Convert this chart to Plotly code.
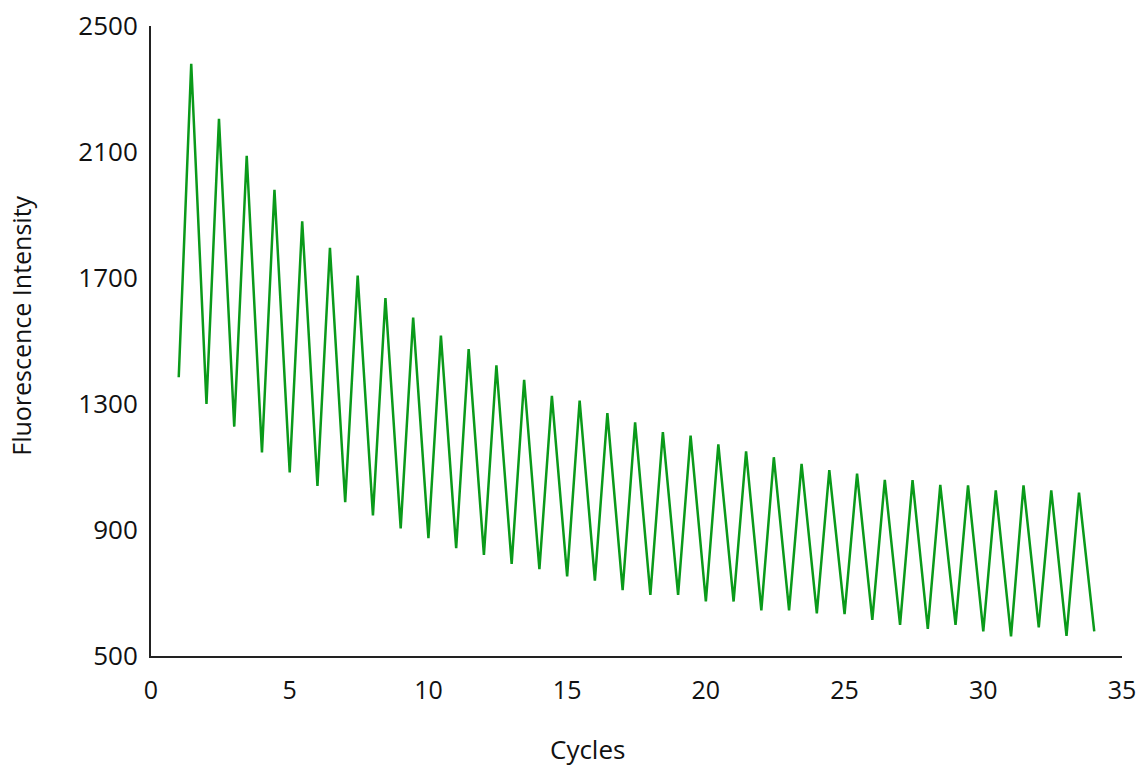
import plotly.graph_objects as go

# Cycle positions: troughs at whole cycles, peaks between them
cycles = [1, 1.45, 2, 2.45, 3, 3.45, 4, 4.45, 5, 5.45, 6, 6.45, 7, 7.45, 8, 8.45,
          9, 9.45, 10, 10.45, 11, 11.45, 12, 12.45, 13, 13.45, 14, 14.45, 15, 15.45,
          16, 16.45, 17, 17.45, 18, 18.45, 19, 19.45, 20, 20.45, 21, 21.45, 22, 22.45,
          23, 23.45, 24, 24.45, 25, 25.45, 26, 26.45, 27, 27.45, 28, 28.45, 29, 29.45,
          30, 30.45, 31, 31.45, 32, 32.45, 33, 33.45, 34]

intensity = [1385, 2380, 1300, 2205, 1228, 2088, 1146, 1980, 1083, 1880, 1040, 1796,
             988, 1708, 946, 1636, 905, 1574, 874, 1517, 842, 1474, 821, 1423, 792,
             1377, 776, 1326, 753, 1311, 739, 1271, 709, 1242, 694, 1211, 694, 1200,
             673, 1172, 673, 1150, 645, 1131, 645, 1110, 635, 1090, 633, 1079, 615,
             1059, 599, 1058, 586, 1043, 599, 1042, 578, 1026, 562, 1042, 591, 1026,
             564, 1019, 578]

x_ticks = [0, 5, 10, 15, 20, 25, 30, 35]
y_ticks = [500, 900, 1300, 1700, 2100, 2500]

x_title = "Cycles"
y_title = "Fluorescence Intensity"

fig = go.Figure()
fig.add_trace(go.Scatter(
    x=cycles, y=intensity, mode="lines",
    line=dict(color="#0a9a1a", width=2.5),
    showlegend=False, hoverinfo="skip",
))

font_family = "Open Sans, Liberation Sans, sans-serif"

fig.update_layout(
    width=1140, height=767,
    margin=dict(l=151, r=18, t=26, b=111),
    paper_bgcolor="white", plot_bgcolor="white",
    font=dict(family=font_family, size=26, color="#111111"),
    xaxis=dict(
        range=[0, 35], tickvals=x_ticks, ticktext=[str(v) for v in x_ticks],
        showgrid=False, zeroline=False, showline=True, linecolor="#222222",
        linewidth=2, ticks="", ticklabelstandoff=11, ticklabeloverflow="allow",
        automargin=False, tickfont=dict(size=25, family=font_family),
    ),
    yaxis=dict(
        range=[500, 2500], tickvals=y_ticks, ticktext=[str(v) for v in y_ticks],
        showgrid=False, zeroline=False, showline=True, linecolor="#222222",
        linewidth=2, ticks="", ticklabelstandoff=6, ticklabeloverflow="allow",
        automargin=False, tickfont=dict(size=26, family=font_family),
    ),
    annotations=[
        dict(text=x_title, xref="paper", yref="paper", x=0.45, y=-0.148,
             xanchor="center", yanchor="middle", showarrow=False,
             font=dict(size=26, family=font_family)),
        dict(text=y_title, xref="paper", yref="paper", x=-0.134, y=0.524,
             xanchor="center", yanchor="middle", showarrow=False, textangle=-90,
             font=dict(size=25, family=font_family)),
    ],
)

fig.write_html(
    "out.html",
    config={"displayModeBar": False},
    post_script="document.body.style.margin='0';document.body.style.overflow='hidden';",
)
